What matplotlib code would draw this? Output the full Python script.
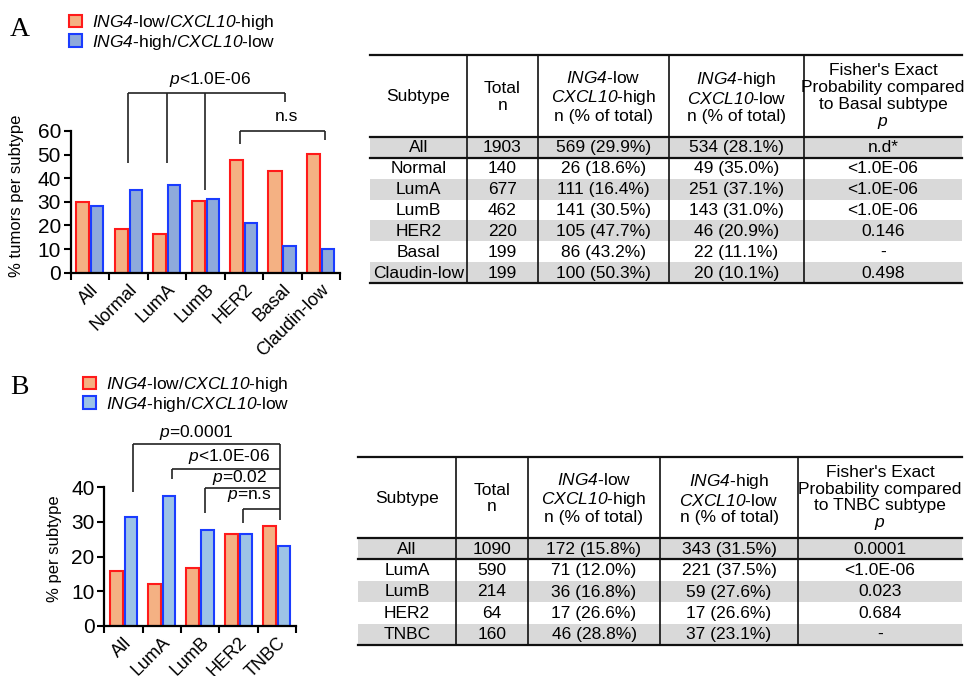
import numpy as np
import matplotlib
matplotlib.use("Agg")
import matplotlib.pyplot as plt
from matplotlib.patches import Rectangle

plt.rcParams["font.family"] = "Liberation Sans"
plt.rcParams["mathtext.fontset"] = "custom"
plt.rcParams["mathtext.rm"] = "Liberation Sans"
# sf slot used for italic gene names (keeps digits italic too)
plt.rcParams["mathtext.sf"] = "Liberation Sans:italic"
plt.rcParams["mathtext.it"] = "Liberation Sans:italic"
plt.rcParams["font.size"] = 12

# ---- data: panel A (METABRIC subtypes) ----
subtypes_a = ["All", "Normal", "LumA", "LumB", "HER2", "Basal", "Claudin-low"]
total_a = [1903, 140, 677, 462, 220, 199, 199]
low_n_a = [569, 26, 111, 141, 105, 86, 100]
low_pct_a = [29.9, 18.6, 16.4, 30.5, 47.7, 43.2, 50.3]
high_n_a = [534, 49, 251, 143, 46, 22, 20]
high_pct_a = [28.1, 35.0, 37.1, 31.0, 20.9, 11.1, 10.1]
pval_a = ["n.d*", "<1.0E-06", "<1.0E-06", "<1.0E-06", "0.146", "-", "0.498"]

# ---- data: panel B (TNBC comparison) ----
subtypes_b = ["All", "LumA", "LumB", "HER2", "TNBC"]
total_b = [1090, 590, 214, 64, 160]
low_n_b = [172, 71, 36, 17, 46]
low_pct_b = [15.8, 12.0, 16.8, 26.6, 28.8]
high_n_b = [343, 221, 59, 17, 37]
high_pct_b = [31.5, 37.5, 27.6, 26.6, 23.1]
pval_b = ["0.0001", "<1.0E-06", "0.023", "0.684", "-"]

LOW_LABEL = r"$\mathsf{ING4}$-low/$\mathsf{CXCL10}$-high"
HIGH_LABEL = r"$\mathsf{ING4}$-high/$\mathsf{CXCL10}$-low"

RED_FILL, RED_EDGE = "#f4b183", "#ff1a1a"
BLUE_EDGE = "#1a3cff"

W, H = 968, 676
fig = plt.figure(figsize=(W / 100, H / 100), dpi=100)
fig.patch.set_facecolor("white")


def px_axes(left, right, top, bottom):
    """axes placed by pixel edges (origin top-left)"""
    return fig.add_axes([left / W, (H - bottom) / H, (right - left) / W, (bottom - top) / H])


def draw_bars(ax, cats, low, high, ymax, step, blue_fill):
    x = np.arange(len(cats))
    b1 = ax.bar(x + 0.31, low, width=0.34, color=RED_FILL, edgecolor=RED_EDGE,
                linewidth=1.5, label=LOW_LABEL)
    b2 = ax.bar(x + 0.69, high, width=0.32, color=blue_fill, edgecolor=BLUE_EDGE,
                linewidth=1.5, label=HIGH_LABEL)
    ax.set_xlim(0, len(cats))
    ax.set_ylim(0, ymax)
    ax.set_yticks(np.arange(0, ymax + 1, step))
    ax.set_xticks(np.arange(len(cats) + 1))
    ax.set_xticklabels([])
    ax.set_xticks(x + 0.5, minor=True)
    ax.set_xticklabels(cats, minor=True, rotation=45, ha="right",
                       rotation_mode="anchor", fontsize=13)
    ax.tick_params(axis="x", which="minor", length=0, pad=6)
    ax.tick_params(axis="both", which="major", length=5, width=1.5,
                   direction="out")
    ax.tick_params(axis="y", labelsize=15, pad=2)
    for s in ("top", "right"):
        ax.spines[s].set_visible(False)
    for s in ("left", "bottom"):
        ax.spines[s].set_linewidth(1.6)
    return b1, b2


def line(ax, xs, ys):
    ax.plot(xs, ys, color="#222222", linewidth=1.2, clip_on=False,
            solid_capstyle="butt")


# ---------------- panel A chart ----------------
axA = px_axes(70.7, 340, 131, 272.7)
draw_bars(axA, subtypes_a, low_pct_a, high_pct_a, 60, 10, "#8eaadb")
axA.set_ylabel("% tumors per subtype", fontsize=12)
axA.yaxis.set_label_coords(-0.175, 0.54)

line(axA, [1.5, 5.58], [76, 76])
line(axA, [1.5, 1.5], [76, 46.5])
line(axA, [2.5, 2.5], [76, 46.5])
line(axA, [3.5, 3.5], [76, 35])
line(axA, [5.58, 5.58], [76, 72.3])
axA.text(3.62, 81.7, r"$\mathsf{p}$<1.0E-06", ha="center", va="center", fontsize=12.5)
line(axA, [4.4, 6.6], [59.8, 59.8])
line(axA, [4.4, 4.4], [59.8, 54.5])
line(axA, [6.6, 6.6], [59.8, 56])
axA.text(5.6, 66, "n.s", ha="center", va="center", fontsize=12.5)

axA.legend(loc="upper left", bbox_to_anchor=(69 / W, 1 - 13 / H),
           bbox_transform=fig.transFigure, frameon=False, borderpad=0,
           borderaxespad=0, handlelength=0.75, handleheight=0.75,
           handletextpad=0.6, labelspacing=0.05, fontsize=12.5)
fig.text(10 / W, 1 - 29 / H, "A", family="Liberation Serif", fontsize=20,
         ha="left", va="center")

# ---------------- panel B chart ----------------
axB = px_axes(104.3, 296, 487.3, 625.7)
draw_bars(axB, subtypes_b, low_pct_b, high_pct_b, 40, 10, "#9dc3e6")
axB.set_ylabel("% per subtype", fontsize=12)
axB.yaxis.set_label_coords(-0.22, 0.56)

line(axB, [0.76, 4.57], [52.4, 52.4])
line(axB, [0.76, 0.76], [52.4, 38.5])
line(axB, [4.57, 4.57], [52.4, 30.5])
line(axB, [1.76, 4.57], [45.2, 45.2])
line(axB, [1.76, 1.76], [45.2, 42.4])
line(axB, [2.63, 4.57], [39.9, 39.9])
line(axB, [2.63, 2.63], [39.9, 32.6])
line(axB, [3.61, 4.57], [33.6, 33.6])
line(axB, [3.61, 3.61], [33.6, 29.7])
axB.text(2.41, 55.9, r"$\mathsf{p}$=0.0001", ha="center", va="center", fontsize=12.5)
axB.text(4.34, 48.8, r"$\mathsf{p}$<1.0E-06", ha="right", va="center", fontsize=12.5)
axB.text(4.24, 42.9, r"$\mathsf{p}$=0.02", ha="right", va="center", fontsize=12.5)
axB.text(4.37, 37.4, r"$\mathsf{p}$=n.s", ha="right", va="center", fontsize=12.5)

axB.legend(loc="upper left", bbox_to_anchor=(83 / W, 1 - 375 / H),
           bbox_transform=fig.transFigure, frameon=False, borderpad=0,
           borderaxespad=0, handlelength=0.75, handleheight=0.75,
           handletextpad=0.6, labelspacing=0.05, fontsize=12.5)
fig.text(10 / W, 1 - 387 / H, "B", family="Liberation Serif", fontsize=20,
         ha="left", va="center")

# ---------------- tables ----------------
tab = fig.add_axes([0, 0, 1, 1], zorder=-1)
tab.set_xlim(0, W)
tab.set_ylim(H, 0)
tab.axis("off")


def draw_table(edges, top, head_bot, bottom, header, rows, shaded):
    n = len(rows)
    rh = (bottom - head_bot) / n
    left, right = edges[0], edges[-1]
    for i in shaded:
        tab.add_patch(Rectangle((left, head_bot + i * rh), right - left, rh,
                                facecolor="#d9d9d9", edgecolor="none"))
    for y in (top, head_bot, head_bot + rh, bottom):
        tab.plot([left, right], [y, y], color="#111111", linewidth=1.6)
    for x in edges[1:-1]:
        tab.plot([x, x], [top, bottom], color="#111111", linewidth=1.2)
    centers = [(a + b) / 2 for a, b in zip(edges[:-1], edges[1:])]
    hy = (top + head_bot) / 2 + 1
    for cx, txt in zip(centers, header):
        tab.text(cx, hy, txt, ha="center", va="center", fontsize=12.5,
                 linespacing=1.15)
    for r, row in enumerate(rows):
        ry = head_bot + (r + 0.5) * rh + 0.5
        for cx, txt in zip(centers, row):
            tab.text(cx, ry, txt, ha="center", va="center", fontsize=12.5)


def header_for(ref):
    return ["Subtype", "Total\nn",
            "$\\mathsf{ING4}$-low\n$\\mathsf{CXCL10}$-high\nn (% of total)",
            "$\\mathsf{ING4}$-high\n$\\mathsf{CXCL10}$-low\nn (% of total)",
            "Fisher's Exact\nProbability compared\nto %s subtype\n$\\mathsf{p}$" % ref]


rows_a = [[s, str(t), f"{ln} ({lp:.1f}%)", f"{hn} ({hp:.1f}%)", p]
          for s, t, ln, lp, hn, hp, p in zip(subtypes_a, total_a, low_n_a, low_pct_a,
                                             high_n_a, high_pct_a, pval_a)]
rows_b = [[s, str(t), f"{ln} ({lp:.1f}%)", f"{hn} ({hp:.1f}%)", p]
          for s, t, ln, lp, hn, hp, p in zip(subtypes_b, total_b, low_n_b, low_pct_b,
                                             high_n_b, high_pct_b, pval_b)]

draw_table([370, 467, 538, 669, 804, 962], 55, 137, 283, header_for("Basal"),
           rows_a, shaded=[0, 2, 4, 6])
draw_table([358, 456, 528, 660, 798, 962], 457, 538, 645, header_for("TNBC"),
           rows_b, shaded=[0, 2, 4])

fig.savefig("out.png", dpi=100)
